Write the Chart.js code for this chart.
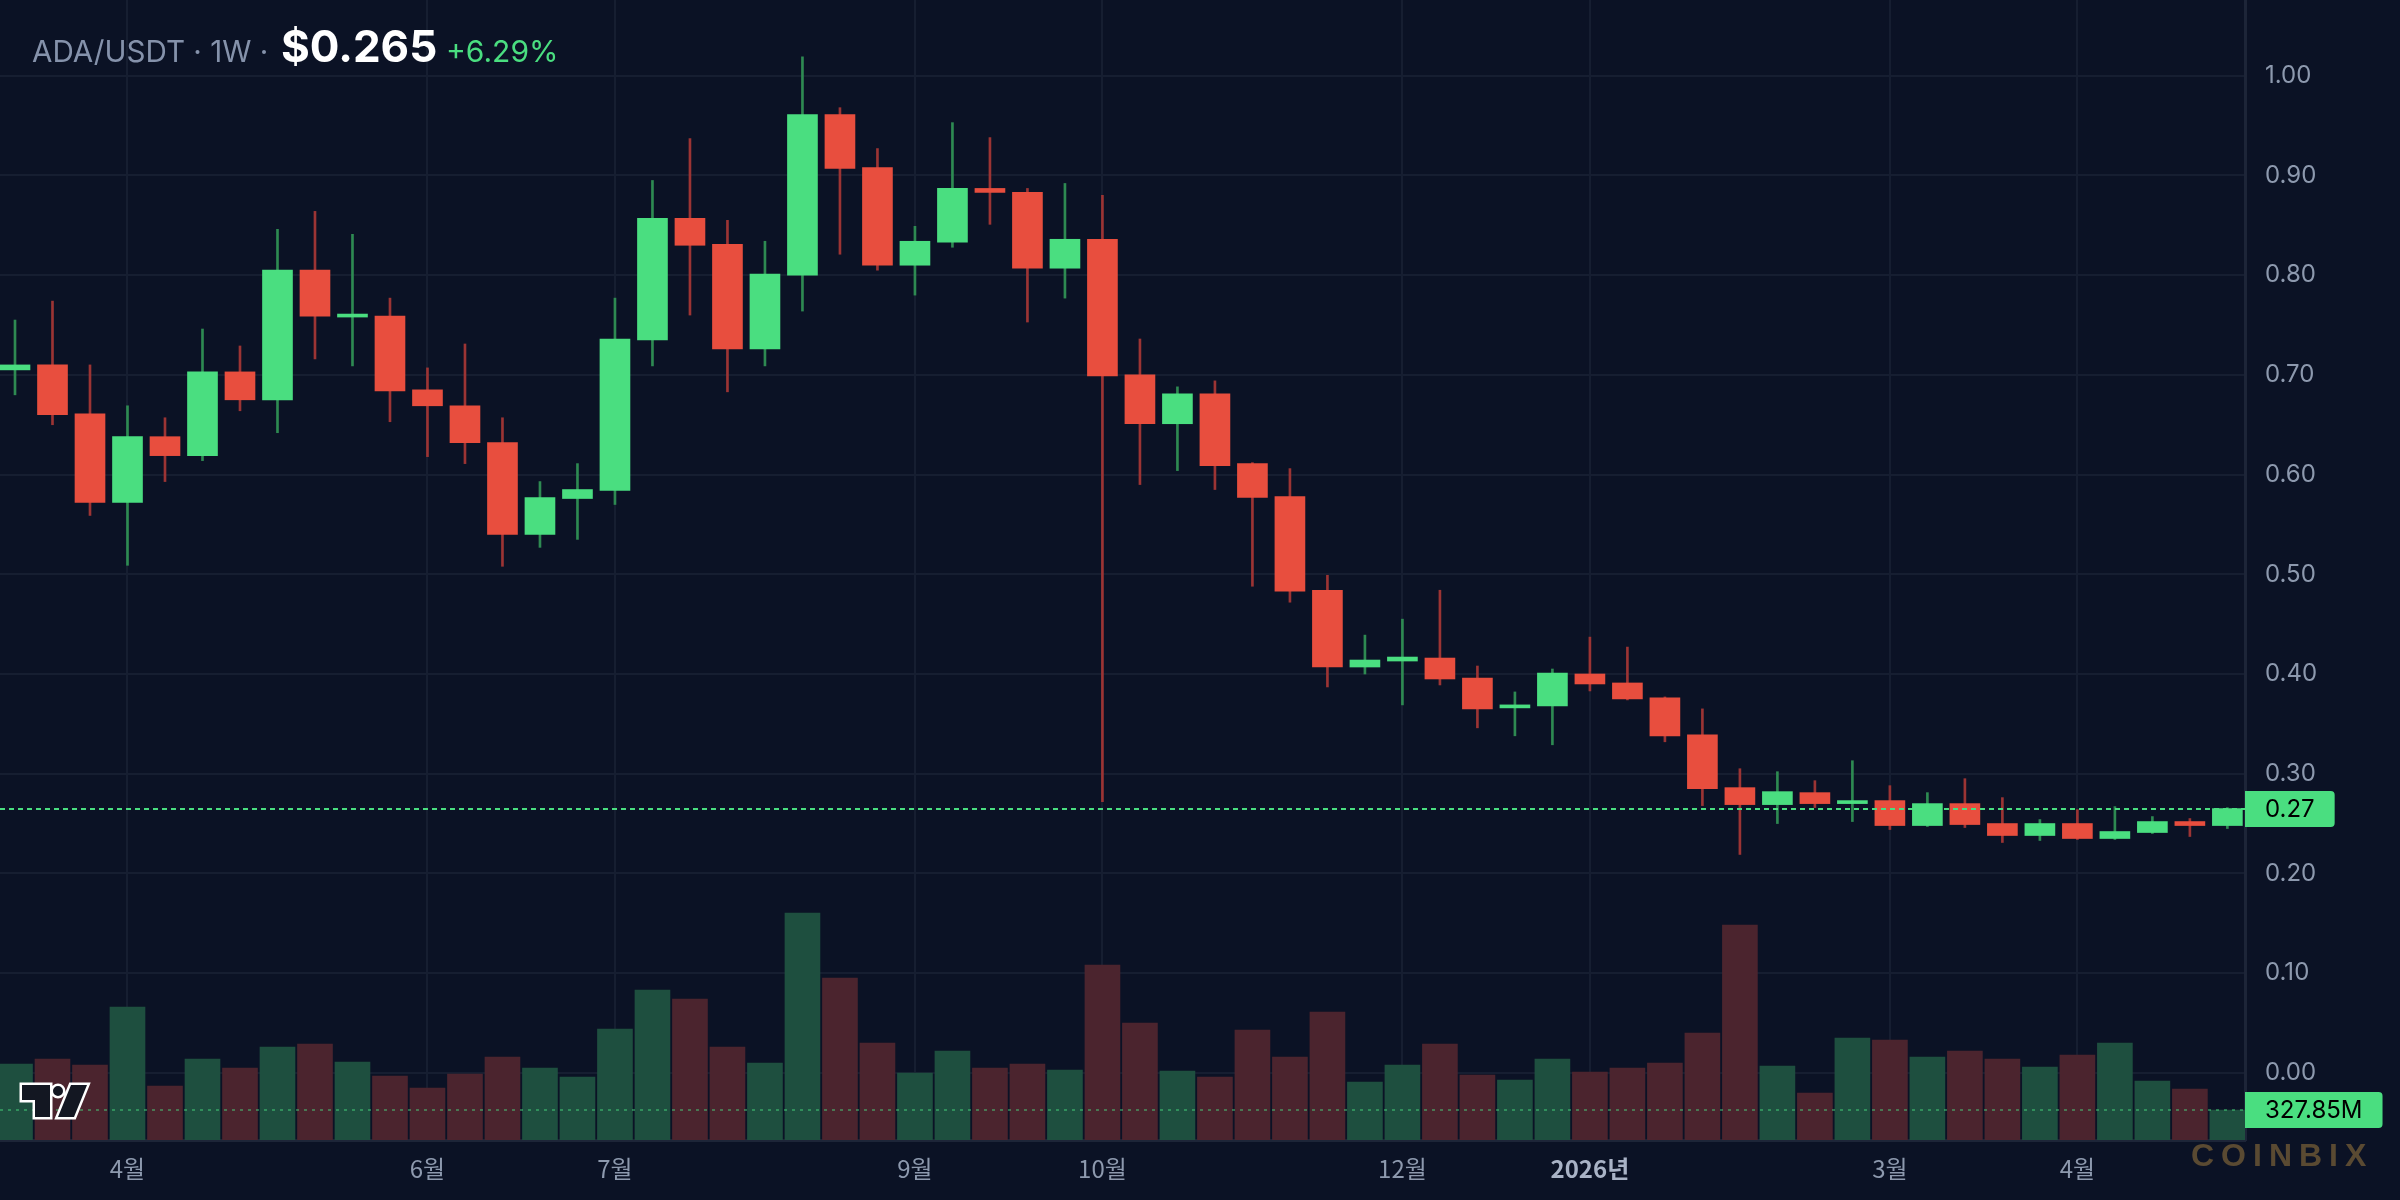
<!DOCTYPE html>
<html>
<head>
<meta charset="utf-8">
<title>ADA/USDT 1W</title>
<script src="https://cdn.jsdelivr.net/npm/chart.js@4.4.1/dist/chart.umd.min.js"></script>
<style>
  html, body { margin: 0; padding: 0; background: #0b1225; }
  canvas { display: block; }
</style>
</head>
<body>
<canvas id="chart" width="2400" height="1200"></canvas>
<script>
// Weekly candles, ADA/USDT (week start dates)
const weeks = [
  '2025-03-17', '2025-03-24', '2025-03-31', '2025-04-07', '2025-04-14', '2025-04-21', '2025-04-28',
  '2025-05-05', '2025-05-12', '2025-05-19', '2025-05-26', '2025-06-02', '2025-06-09', '2025-06-16',
  '2025-06-23', '2025-06-30', '2025-07-07', '2025-07-14', '2025-07-21', '2025-07-28', '2025-08-04',
  '2025-08-11', '2025-08-18', '2025-08-25', '2025-09-01', '2025-09-08', '2025-09-15', '2025-09-22',
  '2025-09-29', '2025-10-06', '2025-10-13', '2025-10-20', '2025-10-27', '2025-11-03', '2025-11-10',
  '2025-11-17', '2025-11-24', '2025-12-01', '2025-12-08', '2025-12-15', '2025-12-22', '2025-12-29',
  '2026-01-05', '2026-01-12', '2026-01-19', '2026-01-26', '2026-02-02', '2026-02-09', '2026-02-16',
  '2026-02-23', '2026-03-02', '2026-03-09', '2026-03-16', '2026-03-23', '2026-03-30', '2026-04-06',
  '2026-04-13', '2026-04-20', '2026-04-27', '2026-05-04'
]

const openPrices = [
  0.705, 0.710, 0.661, 0.572, 0.638, 0.619, 0.703, 0.675, 0.805, 0.758,
  0.759, 0.685, 0.669, 0.632, 0.540, 0.576, 0.584, 0.735, 0.857, 0.831,
  0.726, 0.800, 0.961, 0.908, 0.810, 0.833, 0.887, 0.883, 0.807, 0.836,
  0.700, 0.651, 0.681, 0.611, 0.578, 0.484, 0.407, 0.413, 0.416, 0.396,
  0.366, 0.368, 0.400, 0.391, 0.376, 0.339, 0.286, 0.269, 0.281, 0.270,
  0.273, 0.248, 0.270, 0.250, 0.238, 0.250, 0.235, 0.241, 0.252, 0.248
]
const highPrices = [
  0.755, 0.774, 0.710, 0.669, 0.657, 0.746, 0.729, 0.846, 0.864, 0.841,
  0.777, 0.707, 0.731, 0.657, 0.593, 0.611, 0.777, 0.895, 0.937, 0.855,
  0.834, 1.019, 0.968, 0.927, 0.849, 0.953, 0.938, 0.887, 0.892, 0.880,
  0.736, 0.688, 0.694, 0.612, 0.606, 0.499, 0.439, 0.455, 0.484, 0.408,
  0.382, 0.405, 0.437, 0.427, 0.377, 0.365, 0.305, 0.302, 0.293, 0.313,
  0.288, 0.281, 0.295, 0.276, 0.254, 0.264, 0.267, 0.257, 0.255, 0.266
]
const lowPrices = [
  0.680, 0.650, 0.559, 0.509, 0.593, 0.614, 0.664, 0.642, 0.716, 0.709,
  0.653, 0.618, 0.611, 0.508, 0.527, 0.535, 0.570, 0.709, 0.760, 0.683,
  0.709, 0.764, 0.821, 0.805, 0.780, 0.828, 0.851, 0.753, 0.777, 0.272,
  0.590, 0.604, 0.585, 0.488, 0.472, 0.387, 0.400, 0.369, 0.389, 0.346,
  0.338, 0.329, 0.383, 0.374, 0.332, 0.268, 0.219, 0.250, 0.266, 0.252,
  0.244, 0.247, 0.246, 0.231, 0.233, 0.234, 0.234, 0.240, 0.237, 0.245
]
const closePrices = [
  0.710, 0.660, 0.572, 0.638, 0.619, 0.703, 0.675, 0.805, 0.759, 0.760,
  0.684, 0.669, 0.632, 0.540, 0.577, 0.585, 0.736, 0.857, 0.830, 0.726,
  0.801, 0.961, 0.907, 0.810, 0.834, 0.887, 0.883, 0.807, 0.836, 0.699,
  0.651, 0.681, 0.609, 0.577, 0.483, 0.407, 0.414, 0.417, 0.395, 0.365,
  0.369, 0.401, 0.390, 0.375, 0.338, 0.285, 0.269, 0.282, 0.270, 0.273,
  0.248, 0.270, 0.249, 0.238, 0.250, 0.235, 0.242, 0.252, 0.248, 0.265
]
// weekly volume, millions
const volumes = [
  830, 885, 820, 1453, 590, 885, 787, 1016, 1049, 852,
  699, 568, 721, 907, 787, 688, 1213, 1639, 1541, 1016,
  841, 2481, 1770, 1060, 732, 973, 787, 830, 765, 1912,
  1279, 754, 688, 1202, 907, 1399, 634, 820, 1049, 710,
  656, 885, 743, 787, 841, 1169, 2350, 809, 514, 1115,
  1093, 907, 973, 885, 798, 929, 1060, 645, 557, 327.85
]

const tickWeeks = ['2025-04-07', '2025-06-02', '2025-07-07', '2025-09-01', '2025-10-06',
                   '2025-12-01', '2026-01-05', '2026-03-02', '2026-04-06']
const tickLabels = ['4월', '6월', '7월', '9월', '10월', '12월', '2026년', '3월', '4월']
const priceTicks = [0, 0.1, 0.2, 0.3, 0.4, 0.5, 0.6, 0.7, 0.8, 0.9, 1.0]

const UP = '#4ade80'
const DOWN = '#e84e3e'
const UP_WICK = '#2e8a52'
const DOWN_WICK = '#9c3434'
const UP_VOL = '#1e4f3f'
const DOWN_VOL = '#4b242e'
const TEXT = '#8d99ae'
const GRID = '#161e31'
const BG = '#0b1225'

const isUp = weeks.map((w, i) => closePrices[i] >= openPrices[i])
const tickIndex = tickWeeks.map(w => weeks.indexOf(w))

const bodies = weeks.map((w, i) => ({ x: i, y: [openPrices[i], closePrices[i]] }))
const wicks = weeks.map((w, i) => ({ x: i, y: [lowPrices[i], highPrices[i]] }))
const vols = weeks.map((w, i) => ({ x: i, y: volumes[i] }))

const backgroundPlugin = {
  id: 'bg',
  beforeDraw(chart) {
    const ctx = chart.ctx
    ctx.save()
    ctx.fillStyle = BG
    ctx.fillRect(0, 0, chart.width, chart.height)
    ctx.restore()
  }
}

const overlayPlugin = {
  id: 'overlay',
  afterDatasetsDraw(chart) {
    const ctx = chart.ctx
    const area = chart.chartArea
    const y = chart.scales.y
    const yVol = chart.scales.yVol
    const last = weeks.length - 1

    // volume last-value line
    const vy = Math.round(yVol.getPixelForValue(volumes[last]))
    ctx.save()
    ctx.strokeStyle = 'rgba(74, 222, 128, 0.45)'
    ctx.lineWidth = 2
    ctx.setLineDash([3, 5])
    ctx.beginPath()
    ctx.moveTo(area.left, vy)
    ctx.lineTo(area.right, vy)
    ctx.stroke()

    // price last-value line
    const py = Math.round(y.getPixelForValue(closePrices[last]))
    ctx.strokeStyle = UP
    ctx.setLineDash([5, 4])
    ctx.beginPath()
    ctx.moveTo(area.left, py)
    ctx.lineTo(area.right, py)
    ctx.stroke()
    ctx.setLineDash([])

    // value tags on the axis
    const tag = (txt, cy) => {
      ctx.font = '24px Inter, "Noto Sans", sans-serif'
      const w = ctx.measureText(txt).width
      const x0 = area.right
      const x1 = area.right + 20 + w + 20
      ctx.fillStyle = UP
      ctx.beginPath()
      ctx.roundRect(x0, cy - 18, x1 - x0, 36, [0, 4, 4, 0])
      ctx.fill()
      ctx.fillStyle = '#000'
      ctx.textBaseline = 'middle'
      ctx.textAlign = 'left'
      ctx.fillText(txt, area.right + 20, cy + 1)
    }
    tag(closePrices[last].toFixed(2), py)
    tag(volumes[last].toFixed(2) + 'M', vy)
    ctx.restore()
  },
  afterDraw(chart) {
    const ctx = chart.ctx
    ctx.save()

    // title
    ctx.textBaseline = 'alphabetic'
    ctx.textAlign = 'left'
    const t1 = 'ADA/USDT · 1W ·'
    ctx.font = '31px Inter, "Noto Sans", sans-serif'
    const size = Math.min(31, 31 * 236 / ctx.measureText(t1).width)
    ctx.font = size.toFixed(1) + 'px Inter, "Noto Sans", sans-serif'
    ctx.fillStyle = '#8592ab'
    ctx.fillText(t1, 32, 62)
    ctx.font = 'bold 44px Inter, "Noto Sans", sans-serif'
    ctx.fillStyle = '#ffffff'
    ctx.fillText('$0.265', 281, 62)
    ctx.font = '30px Inter, "Noto Sans", sans-serif'
    ctx.fillStyle = UP
    ctx.fillText('+6.29%', 446, 62)

    // tradingview mark
    ctx.lineJoin = 'miter'
    ctx.strokeStyle = '#ffffff'
    ctx.fillStyle = '#131722'
    ctx.lineWidth = 5
    const shapes = () => {
      ctx.beginPath()
      ctx.moveTo(22, 1085); ctx.lineTo(50, 1085); ctx.lineTo(50, 1117)
      ctx.lineTo(35, 1117); ctx.lineTo(35, 1100); ctx.lineTo(22, 1100); ctx.closePath()
      ctx.moveTo(63, 1091); ctx.arc(58, 1091, 5, 0, Math.PI * 2)
      ctx.moveTo(71, 1085); ctx.lineTo(87, 1085); ctx.lineTo(74, 1117); ctx.lineTo(58, 1117); ctx.closePath()
    }
    shapes(); ctx.stroke()
    shapes(); ctx.fill()

    // watermark
    ctx.font = 'bold 32px "Liberation Sans", Inter, sans-serif'
    ctx.letterSpacing = '7px'
    ctx.fillStyle = '#5a4a32'
    ctx.textBaseline = 'middle'
    ctx.fillText('COINBIX', 2191, 1157)
    ctx.restore()
  }
}

new Chart(document.getElementById('chart'), {
  type: 'bar',
  data: {
    datasets: [
      {
        label: 'Body',
        data: bodies,
        backgroundColor: isUp.map(u => u ? UP : DOWN),
        barThickness: 30,
        minBarLength: 3,
        grouped: false,
        yAxisID: 'y',
        order: 1
      },
      {
        label: 'Wick',
        data: wicks,
        backgroundColor: isUp.map(u => u ? UP_WICK : DOWN_WICK),
        barThickness: 2,
        grouped: false,
        yAxisID: 'y',
        order: 2
      },
      {
        label: 'Volume',
        data: vols,
        backgroundColor: isUp.map(u => u ? UP_VOL : DOWN_VOL),
        barThickness: 35,
        grouped: false,
        yAxisID: 'yVol',
        order: 3
      }
    ]
  },
  options: {
    responsive: false,
    animation: false,
    devicePixelRatio: 1,
    layout: { padding: 0 },
    plugins: {
      legend: { display: false },
      tooltip: { enabled: false }
    },
    scales: {
      x: {
        type: 'linear',
        position: 'bottom',
        offset: false,
        min: -0.4,
        max: 59.47,
        grid: { color: GRID, lineWidth: 2, drawTicks: false, offset: false },
        border: { color: '#1d2538', width: 3 },
        ticks: {
          padding: 14,
          color: (ctx) => (ctx.tick && String(ctx.tick.label).includes('년')) ? '#a9b3c6' : TEXT,
          font: (ctx) => ({
            family: '"Noto Sans CJK KR", "Noto Sans", sans-serif',
            size: 24,
            weight: (ctx.tick && String(ctx.tick.label).includes('년')) ? 'bold' : 'normal'
          }),
          maxRotation: 0,
          autoSkip: false,
          callback: (v) => {
            const k = tickIndex.indexOf(v)
            return k >= 0 ? tickLabels[k] : ''
          }
        },
        afterBuildTicks: (scale) => {
          scale.ticks = tickIndex.map(i => ({ value: i }))
        },
        afterFit: (scale) => {
          scale.height = 60
          scale.paddingLeft = 0
          scale.paddingRight = 0
        }
      },
      y: {
        position: 'right',
        min: -0.0674,
        max: 1.076,
        grid: { color: GRID, lineWidth: 2, drawTicks: false },
        border: { color: '#1d2538', width: 3 },
        ticks: {
          padding: 20,
          color: TEXT,
          font: { family: 'Inter, "Noto Sans", sans-serif', size: 24 },
          callback: (v) => v.toFixed(2)
        },
        afterBuildTicks: (scale) => {
          scale.ticks = priceTicks.map(v => ({ value: v }))
        },
        afterFit: (scale) => {
          scale.width = 155
          scale.paddingTop = 0
          scale.paddingBottom = 0
        }
      },
      yVol: {
        display: false,
        position: 'left',
        min: 0,
        max: 12460
      }
    }
  },
  plugins: [backgroundPlugin, overlayPlugin]
})
</script>
</body>
</html>
